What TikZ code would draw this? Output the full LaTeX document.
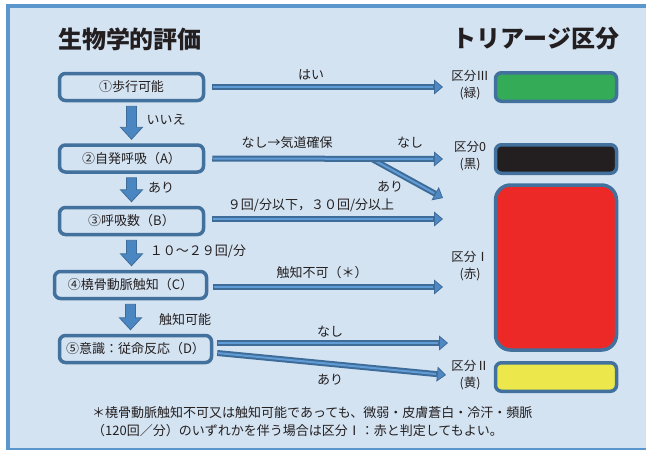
\documentclass[tikz,border=0pt]{standalone}
\usepackage{fontspec}
\setmainfont{Noto Sans CJK JP}
\usetikzlibrary{arrows.meta,calc}
\definecolor{bgblue}{RGB}{212,227,242}
\definecolor{frameblue}{RGB}{91,150,205}
\definecolor{boxborder}{RGB}{65,113,156}
\definecolor{hdark}{RGB}{62,108,152}
\definecolor{hlight}{RGB}{98,156,214}
\definecolor{hmid}{RGB}{80,136,196}
\definecolor{vfill}{RGB}{74,134,193}
\definecolor{txt}{RGB}{35,31,32}
\definecolor{tgreen}{RGB}{52,172,87}
\definecolor{tblack}{RGB}{35,31,32}
\definecolor{tred}{RGB}{237,41,39}
\definecolor{tyellow}{RGB}{236,232,76}
\newcommand\blockdown[2]{%
  \draw[blockarr] let \p1=(#1.south), \p2=(#2.north) in
    (\x1-5pt,\y1-4pt) -- (\x1+5pt,\y1-4pt) -- (\x1+5pt,\y2+16pt) -- (\x1+11pt,\y2+16pt)
    -- (\x1,\y2+4pt) -- (\x1-11pt,\y2+16pt) -- (\x1-5pt,\y2+16pt) -- cycle;}
\begin{document}
\begin{tikzpicture}[x=1pt,y=-1pt,
  box/.style={draw=boxborder, line width=3.5pt, rounded corners=6pt, fill=bgblue,
    minimum width=144pt, minimum height=27pt, inner sep=0pt, text=txt,
    font=\fontsize{13pt}{15pt}\selectfont},
  tribox/.style={draw=boxborder, line width=3.5pt, rounded corners=6pt,
    minimum width=121pt, minimum height=28.5pt, inner sep=0pt},
  lbl/.style={text=txt, inner sep=0pt, font=\fontsize{13pt}{15pt}\selectfont},
  cat/.style={text=txt, inner sep=0pt, align=center, font=\fontsize{12.5pt}{17pt}\selectfont},
  ttl/.style={text=txt, inner sep=0pt, font=\fontsize{24pt}{28pt}\selectfont\bfseries},
  blockarr/.style={fill=vfill, draw=hdark, line width=0.8pt, line join=miter},
  harrow/.style={draw=hdark, line width=6pt,
    -{Triangle[length=9pt,width=15pt,line width=0.8pt,fill=hmid]},
    postaction={draw=hlight, line width=2pt, arrows=-, shorten >=10pt, shorten <=1pt}}
]
\useasboundingbox (0,0) rectangle (646,451);
% frame
\fill[white] (0,0) rectangle (646,451);
\fill[frameblue] (6,4) rectangle (646,450);
\fill[bgblue] (10,8) rectangle (646,448);

% titles
\node[ttl] (t1) at (130,39) {生物学的評価};
\node[ttl] (t2) at (536,39) {トリアージ区分};

% evaluation boxes
\node[box] (n1) at (131.5,87) {①歩行可能};
\node[box] (n2) at (131.5,158.5) {②自発呼吸（A）};
\node[box] (n3) at (131.5,221) {③呼吸数（B）};
\node[box, minimum width=152pt] (n4) at (130.5,285) {④橈骨動脈触知（C）};
\node[box, minimum width=152pt] (n5) at (135.5,349) {⑤意識：従命反応（D）};

% triage boxes
\node[tribox, fill=tgreen] (g) at (556,87) {};
\node[tribox, fill=tblack] (k) at (556,159) {};
\node[tribox, fill=tred, rounded corners=15pt, minimum height=165pt] (r) at (556,267.5) {};
\node[tribox, fill=tyellow] (y) at (556,377) {};

% category labels
\node[cat] (c3) at (470,85.5) {区分Ⅲ\\(緑)};
\node[cat] (c0) at (470,156.5) {区分0\\(黒)};
\node[cat] (c1) at (470,266) {区分Ⅰ\\(赤)};
\node[cat] (c2) at (470,375.5) {区分Ⅱ\\(黄)};

% vertical block arrows
\blockdown{n1}{n2}
\blockdown{n2}{n3}
\blockdown{n3}{n4}
\blockdown{n4}{n5}

% end points
\coordinate (e1) at (443,87);
\coordinate (e2) at (443,159);
\coordinate (b2) at (372,159);
\coordinate (e2b) at (443,198);
\coordinate (e3) at (443,219);
\coordinate (e4) at (443,287);
\coordinate (e5a) at (448,343);
\coordinate (e5b) at (446,375);

% horizontal arrows
\draw[harrow] ([xshift=7pt]n1.east) -- (e1);
\draw[harrow] (b2) -- (e2b);
\draw[harrow] ([xshift=7pt]n2.east) -- (e2);
\draw[harrow] ([xshift=7pt,yshift=2pt]n3.east) -- (e3);
\draw[harrow] ([xshift=5pt,yshift=-2pt]n4.east) -- (e4);
\draw[harrow] ([xshift=4pt,yshift=6pt]n5.east) -- (e5a);
\draw[harrow] ([xshift=4pt,yshift=-4pt]n5.east) -- (e5b);

% arrow labels
\node[lbl] (l1) at (311,75) {はい};
\node[lbl] (l2) at (166,120) {いいえ};
\node[lbl] (l3) at (287,143) {なし→気道確保};
\node[lbl] (l4) at (410,143) {なし};
\node[lbl] (l5) at (390,187) {あり};
\node[lbl] (l6) at (161,188) {あり};
\node[lbl] (l7) at (311,205) {９回/分以下，３０回/分以上};
\node[lbl] (l8) at (198,251) {１０～２９回/分};
\node[lbl] (l9) at (322,273) {触知不可（＊）};
\node[lbl] (l10) at (185,320) {触知可能};
\node[lbl] (l11) at (330,332) {なし};
\node[lbl] (l12) at (330,380) {あり};

% footnote
\node[lbl, anchor=west, align=left, font=\fontsize{13pt}{18pt}\selectfont] (fn) at (92,422)
 {＊橈骨動脈触知不可又は触知可能であっても、微弱・皮膚蒼白・冷汗・頻脈\\（120回／分）のいずれかを伴う場合は区分Ⅰ：赤と判定してもよい。};
\end{tikzpicture}
\end{document}
